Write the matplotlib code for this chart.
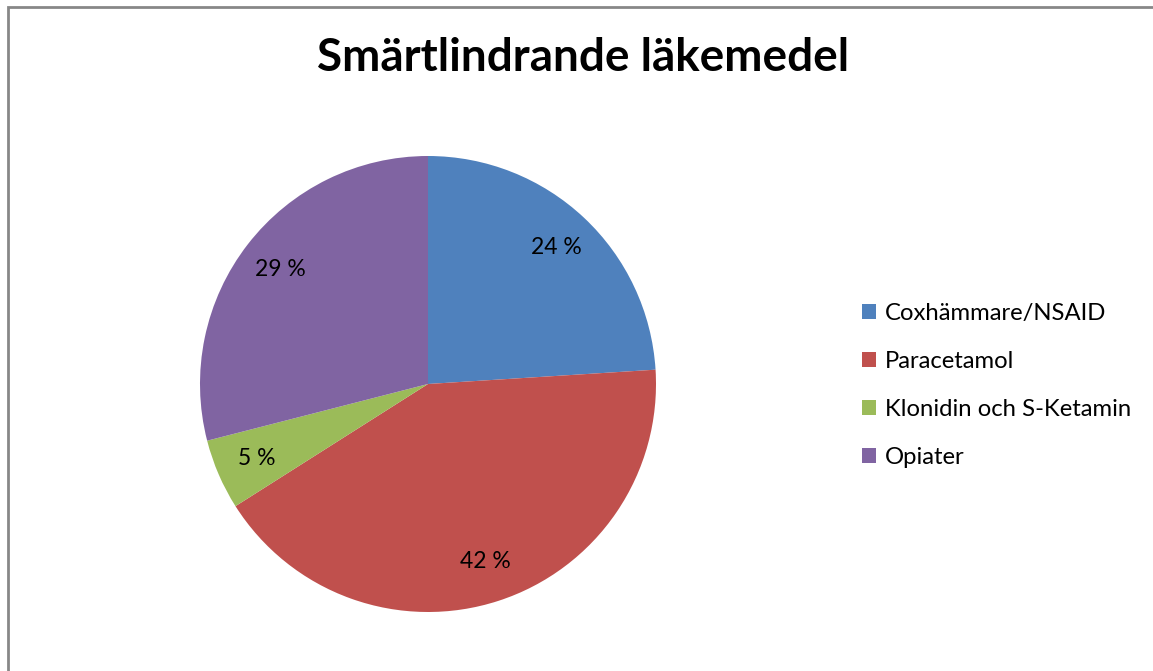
import matplotlib
matplotlib.use("Agg")
import matplotlib.pyplot as plt
from matplotlib.patches import Rectangle

# Chart data
categories = ["Coxhämmare/NSAID", "Paracetamol", "Klonidin och S-Ketamin", "Opiater"]
shares = [24, 42, 5, 29]
colors = ["#4F81BD", "#C0504D", "#9BBB59", "#8064A2"]
title = "Smärtlindrande läkemedel"

plt.rcParams["font.family"] = ["Lato", "DejaVu Sans"]

W, H = 1153, 671
fig = plt.figure(figsize=(W / 100, H / 100), dpi=100)

# gray chart frame (only left and top edges visible)
fig.patches.append(Rectangle((8 / W, -0.1), 1.2, (H - 7) / H + 0.1, transform=fig.transFigure,
                             fill=False, edgecolor="#878787", linewidth=2))

# pie axes placed in pixel units: center (428, 384), radius 228
ax = fig.add_axes([200 / W, (H - 612) / H, 456 / W, 456 / H])
wedges, texts, autotexts = ax.pie(
    shares, colors=colors, startangle=90, counterclock=False,
    autopct=lambda p: f"{p:.0f} %", pctdistance=0.82, radius=1,
    wedgeprops=dict(linewidth=0),
    textprops=dict(fontsize=16.5, color="black"),
)
ax.set_xlim(-1, 1)
ax.set_ylim(-1, 1)
ax.set_aspect("equal")
ax.axis("off")

fig.text(583 / W, 1 - 58 / H, title, ha="center", va="center", fontsize=33, fontweight="bold")

fig.legend(wedges, categories, loc="upper left", bbox_to_anchor=(862 / W, 1 - 303 / H),
           frameon=False, fontsize=17.2, handlelength=0.58, handleheight=0.58,
           handletextpad=0.38, labelspacing=1.13, borderpad=0, borderaxespad=0)

fig.savefig("out.png", dpi=100, facecolor="white")
